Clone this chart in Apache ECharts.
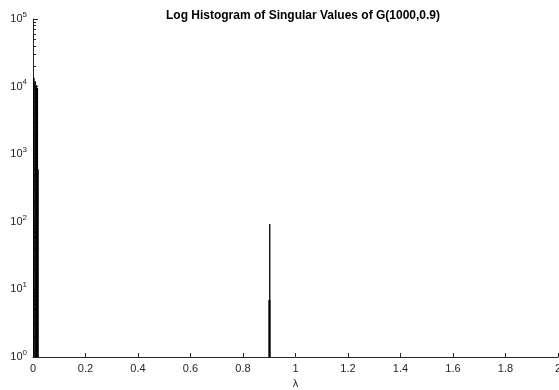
<!DOCTYPE html>
<html>
<head>
<meta charset="utf-8">
<script src="https://cdn.jsdelivr.net/npm/echarts@6/dist/echarts.min.js"></script>
<style>
  html, body { margin: 0; padding: 0; background: #fff; }
  #chart { width: 559px; height: 390px; }
</style>
</head>
<body>
<div id="chart"></div>
<script>
// histogram bins (lambda ranges) and counts
const binStart = [0, 0.005, 0.010, 0.0145, 0.017, 0.8965, 0.8995];
const binEnd   = [0.005, 0.010, 0.0145, 0.017, 0.0195, 0.9035, 0.9015];
const counts   = [13500, 12000, 10500, 9500, 600, 7, 93];

const xTicks = [0, 0.2, 0.4, 0.6, 0.8, 1, 1.2, 1.4, 1.6, 1.8, 2];
const yMajor = [1, 10, 100, 1000, 10000, 100000];
let yMinor = [];
for (let d = 1; d < 100000; d *= 10) {
  for (let k = 2; k <= 9; k++) yMinor.push(d * k);
}

const data = binStart.map((s, i) => [s, binEnd[i], counts[i]]);
const axisColor = '#262626';
const font = 'Liberation Sans, Arial, Helvetica, sans-serif';

const chart = echarts.init(document.getElementById('chart'));
const option = {
  animation: false,
  title: {
    text: 'Log Histogram of Singular Values of G(1000,0.9)',
    left: 298, top: 5, textAlign: 'center',
    textStyle: { fontSize: 12, fontWeight: 'bold', color: '#000', fontFamily: font }
  },
  grid: { left: 33, right: 1, top: 19, bottom: 33, containLabel: false, outerBoundsMode: 'none' },
  xAxis: {
    type: 'value', min: 0, max: 2, interval: 0.2,
    name: 'λ', nameLocation: 'middle', nameGap: 20,
    nameTextStyle: { fontSize: 11, color: axisColor, fontFamily: font },
    axisLine: { lineStyle: { color: axisColor, width: 1 } },
    axisTick: { inside: true, length: 4, lineStyle: { color: axisColor } },
    axisLabel: { fontSize: 11, color: axisColor, fontFamily: font, margin: 6,
      formatter: v => String(+v.toFixed(1)) },
    splitLine: { show: false }
  },
  yAxis: [{
    type: 'log', min: 1, max: 100000, logBase: 10,
    axisLine: { show: true, lineStyle: { color: axisColor, width: 1 } },
    axisTick: { show: true, inside: true, length: 5, customValues: yMajor, lineStyle: { color: axisColor } },
    axisLabel: {
      customValues: yMajor, margin: 6, color: axisColor, fontFamily: font,
      formatter: v => '{b|10}{s|' + Math.round(Math.log10(v)) + '}',
      rich: {
        b: { fontSize: 11, color: axisColor, fontFamily: font },
        s: { fontSize: 8, color: axisColor, fontFamily: font, verticalAlign: 'top', padding: [0, 0, 9, 0] }
      }
    },
    splitLine: { show: false }
  }, {
    type: 'log', min: 1, max: 100000, logBase: 10, position: 'left', offset: 0,
    axisLine: { show: false },
    axisTick: { show: true, inside: true, length: 3, customValues: yMinor, lineStyle: { color: axisColor } },
    axisLabel: { show: false },
    splitLine: { show: false }
  }],
  series: [{
    type: 'custom',
    data: data,
    encode: { x: [0, 1], y: 2 },
    renderItem: function (params, api) {
      const tl = api.coord([api.value(0), api.value(2)]);
      const br = api.coord([api.value(1), 1]);
      return {
        type: 'rect',
        shape: { x: tl[0], y: tl[1], width: Math.max(br[0] - tl[0], 1) + 0.3, height: br[1] - tl[1] },
        style: { fill: '#000' }
      };
    }
  }]
};
chart.setOption(option);
</script>
</body>
</html>
